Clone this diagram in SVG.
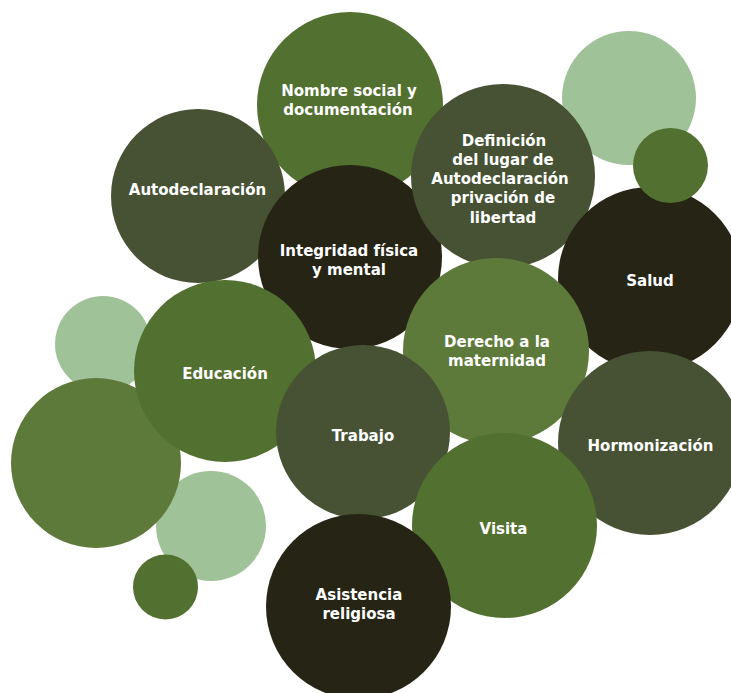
<svg xmlns="http://www.w3.org/2000/svg" width="731" height="693" viewBox="0 0 731 693">
<style>
.g{fill:#52702f}
.o{fill:#465233}
.d{fill:#262515}
.m{fill:#5e7a3b}
.l{fill:#a0c298}
text{font-family:"DejaVu Sans","Liberation Sans",sans-serif;font-weight:bold;font-size:15px;fill:#ffffff;text-anchor:middle}
</style>
<rect width="731" height="693" fill="#ffffff"/>
<g id="deco-top-right"><circle class="l" cx="629" cy="98" r="67"/></g>
<g id="nombre"><circle class="g" cx="350" cy="105" r="93"/><text x="349" y="96">Nombre social y</text><text x="348" y="115">documentación</text></g>
<g id="autodeclaracion"><circle class="o" cx="198" cy="196" r="87"/><text x="197.5" y="194.5">Autodeclaración</text></g>
<g id="integridad"><circle class="d" cx="350" cy="257" r="92"/><text x="349" y="256">Integridad física</text><text x="349" y="275">y mental</text></g>
<g id="definicion"><circle class="o" cx="503" cy="176" r="92"/><text x="504" y="146">Definición</text><text x="503" y="165">del lugar de</text><text x="500" y="184">Autodeclaración</text><text x="503" y="203">privación de</text><text x="503" y="222.5">libertad</text></g>
<g id="salud"><circle class="d" cx="650" cy="279" r="92"/><text x="650" y="286">Salud</text></g>
<g id="deco-small-top"><circle class="g" cx="670.5" cy="165.5" r="37.5"/></g>
<g id="deco-left"><circle class="l" cx="103" cy="344" r="48"/></g>
<g id="deco-mid"><circle class="l" cx="211" cy="526" r="55"/></g>
<g id="deco-big-left"><circle class="m" cx="96" cy="463" r="85"/></g>
<g id="deco-small-bottom"><circle class="g" cx="165.5" cy="587" r="32.5"/></g>
<g id="educacion"><circle class="g" cx="225" cy="371" r="91"/><text x="225" y="378.5">Educación</text></g>
<g id="derecho"><circle class="m" cx="496" cy="351" r="93"/><text x="497" y="346.5">Derecho a la</text><text x="497" y="365.5">maternidad</text></g>
<g id="trabajo"><circle class="o" cx="363" cy="432" r="87"/><text x="363" y="441">Trabajo</text></g>
<g id="hormonizacion"><circle class="o" cx="650" cy="443" r="92"/><text x="650.5" y="451">Hormonización</text></g>
<g id="visita"><circle class="g" cx="504.5" cy="525.5" r="92.5"/><text x="503.5" y="534">Visita</text></g>
<g id="asistencia"><circle class="d" cx="358.5" cy="606.5" r="92.5"/><text x="359" y="600">Asistencia</text><text x="359" y="619">religiosa</text></g>
<g id="connectors"/>
</svg>
